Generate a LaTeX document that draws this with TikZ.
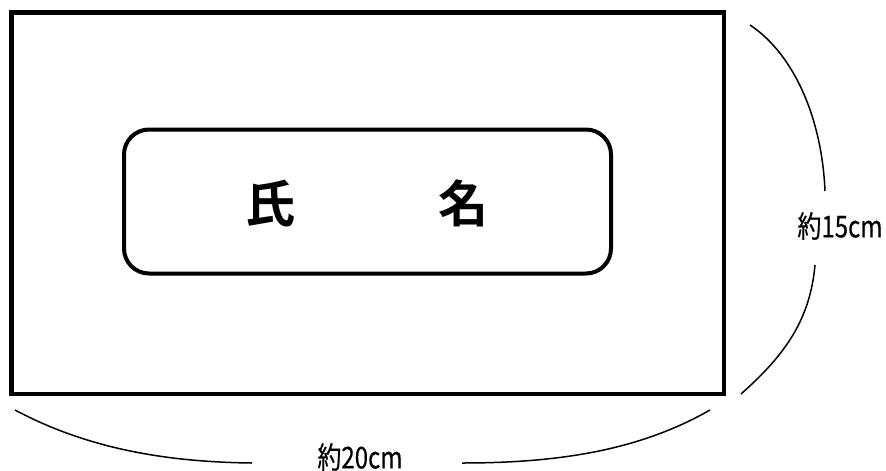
\documentclass[tikz,border=0pt]{standalone}
\usepackage{fontspec}
\newfontfamily\cjkbold{Noto Sans CJK JP Bold}
\newfontfamily\cjk[FakeStretch=0.8,FakeBold=0.4]{Noto Sans CJK JP}
\begin{document}
\begin{tikzpicture}[x=1pt,y=-1pt,
  frame/.style={draw,line width=4.5pt,minimum width=712.5pt,minimum height=381.5pt,inner sep=0pt},
  namebox/.style={draw,line width=4pt,rounded corners=25pt,minimum width=487pt,minimum height=144pt,inner sep=0pt},
  big/.style={font=\cjkbold\fontsize{50}{50}\selectfont,inner sep=0pt},
  lbl/.style={font=\cjk\fontsize{30}{30}\selectfont,inner sep=0pt},
  brace/.style={line width=1.5pt}]
\useasboundingbox (0,0) rectangle (886,471);
\node[frame] (outer) at (367.75,203.25) {};
\node[namebox] (inner) at (367.5,201.5) {};
\node[big] (shi) at (270,203.5) {氏};
\node[big] (mei) at (463.5,203.5) {名};
\node[lbl] (h) at (840,226) {約15cm};
\node[lbl] (w) at (360,457) {約20cm};
\coordinate (r1) at (750,25);
\coordinate (r2) at (825,191);
\coordinate (r3) at (815,265);
\coordinate (r4) at (741,394);
\coordinate (b1) at (15,410);
\coordinate (b2) at (252,463);
\coordinate (b3) at (462,463);
\coordinate (b4) at (710,410);
\draw[brace] (r1) .. controls (795,55) and (822,120) .. (r2);
\draw[brace] (r3) .. controls (810,320) and (785,355) .. (r4);
\draw[brace] (b1) .. controls (90,450) and (170,462) .. (b2);
\draw[brace] (b3) .. controls (560,463) and (640,450) .. (b4);
\end{tikzpicture}
\end{document}
